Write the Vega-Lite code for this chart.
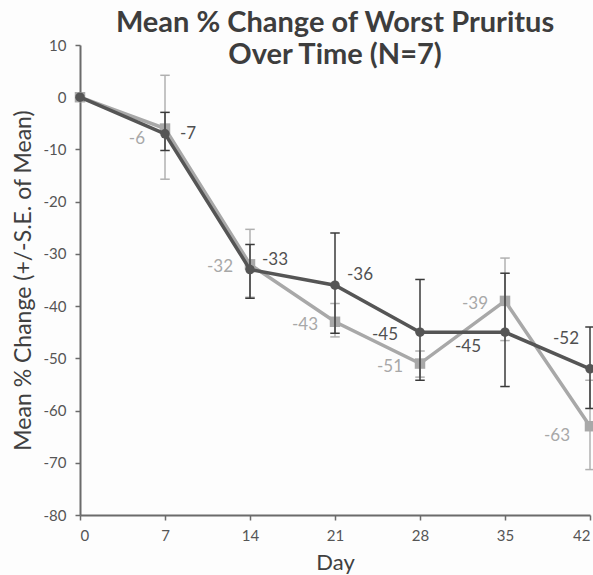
{
  "$schema": "https://vega.github.io/schema/vega-lite/v6.json",
  "width": 510,
  "height": 470,
  "autosize": {"type": "none"},
  "padding": {"left": 80, "top": 45, "right": 3, "bottom": 60},
  "background": "#fdfdfd",
  "title": {
    "text": ["Mean % Change of Worst Pruritus", "Over Time (N=7)"],
    "font": "Lato",
    "fontSize": 29,
    "fontWeight": "bold",
    "color": "#3d3d3d",
    "anchor": "middle",
    "frame": "group",
    "lineHeight": 32,
    "baseline": "alphabetic",
    "offset": -55
  },
  "config": {
    "locale": {
      "number": {"decimal": ".", "thousands": ",", "grouping": [3], "currency": ["$", ""], "minus": "-"}
    },
    "view": {"stroke": null},
    "font": "Lato",
    "axis": {
      "grid": false,
      "domainColor": "#6b6b6b",
      "domainWidth": 2,
      "tickColor": "#6b6b6b",
      "tickWidth": 1.5,
      "tickSize": 5,
      "labelFont": "Lato",
      "labelFontSize": 15,
      "labelColor": "#555555",
      "titleFont": "Lato",
      "titleFontSize": 23,
      "titleFontWeight": "normal",
      "titleColor": "#404040"
    }
  },
  "data": {
    "values": [
      {"series": "B", "day": 0, "mean": 0},
      {"series": "B", "day": 7, "mean": -6, "lo": -15.7, "hi": 4.2},
      {"series": "B", "day": 14, "mean": -32, "lo": -38.3, "hi": -25.3},
      {"series": "B", "day": 21, "mean": -43, "lo": -45.9, "hi": -39.5},
      {"series": "B", "day": 28, "mean": -51, "lo": -53.6, "hi": -48.6},
      {"series": "B", "day": 35, "mean": -39, "lo": -46.6, "hi": -30.8},
      {"series": "B", "day": 42, "mean": -63, "lo": -71.3, "hi": -54.2},
      {"series": "A", "day": 0, "mean": 0},
      {"series": "A", "day": 7, "mean": -7, "lo": -10.2, "hi": -2.9},
      {"series": "A", "day": 14, "mean": -33, "lo": -38.5, "hi": -28.2},
      {"series": "A", "day": 21, "mean": -36, "lo": -45.2, "hi": -26.0},
      {"series": "A", "day": 28, "mean": -45, "lo": -54.2, "hi": -34.9},
      {"series": "A", "day": 35, "mean": -45, "lo": -55.4, "hi": -33.7},
      {"series": "A", "day": 42, "mean": -52, "lo": -59.6, "hi": -44.0}
    ]
  },
  "layer": [
    {
      "transform": [{"filter": "datum.series == 'B'"}],
      "layer": [
        {
          "mark": {"type": "rule", "color": "#b0b0b0", "strokeWidth": 1.5},
          "encoding": {
            "y": {"field": "lo", "type": "quantitative"},
            "y2": {"field": "hi"}
          }
        },
        {
          "mark": {"type": "point", "shape": "M-1,0H1", "size": 90, "stroke": "#b0b0b0", "strokeWidth": 1.5, "filled": false, "opacity": 1},
          "encoding": {"y": {"field": "lo", "type": "quantitative"}}
        },
        {
          "mark": {"type": "point", "shape": "M-1,0H1", "size": 90, "stroke": "#b0b0b0", "strokeWidth": 1.5, "filled": false, "opacity": 1},
          "encoding": {"y": {"field": "hi", "type": "quantitative"}}
        },
        {
          "mark": {"type": "line", "color": "#a8a8a8", "strokeWidth": 3.5},
          "encoding": {"y": {"field": "mean", "type": "quantitative"}}
        },
        {
          "mark": {"type": "point", "shape": "square", "size": 110, "filled": true, "color": "#a8a8a8", "opacity": 1},
          "encoding": {"y": {"field": "mean", "type": "quantitative"}}
        },
        {
          "transform": [{"filter": "datum.day == 7 || datum.day == 42"}],
          "mark": {"type": "text", "align": "right", "baseline": "middle", "dx": -20, "dy": 10, "fontSize": 17, "color": "#a8a8a8"},
          "encoding": {"y": {"field": "mean", "type": "quantitative"}, "text": {"field": "mean", "type": "quantitative", "format": ".0f"}}
        },
        {
          "transform": [{"filter": "datum.day >= 14 && datum.day <= 35"}],
          "mark": {"type": "text", "align": "right", "baseline": "middle", "dx": -17, "dy": 3, "fontSize": 17, "color": "#a8a8a8"},
          "encoding": {"y": {"field": "mean", "type": "quantitative"}, "text": {"field": "mean", "type": "quantitative", "format": ".0f"}}
        }
      ]
    },
    {
      "transform": [{"filter": "datum.series == 'A'"}],
      "layer": [
        {
          "mark": {"type": "rule", "color": "#3a3a3a", "strokeWidth": 1.5},
          "encoding": {
            "y": {"field": "lo", "type": "quantitative"},
            "y2": {"field": "hi"}
          }
        },
        {
          "mark": {"type": "point", "shape": "M-1,0H1", "size": 90, "stroke": "#3a3a3a", "strokeWidth": 1.5, "filled": false, "opacity": 1},
          "encoding": {"y": {"field": "lo", "type": "quantitative"}}
        },
        {
          "mark": {"type": "point", "shape": "M-1,0H1", "size": 90, "stroke": "#3a3a3a", "strokeWidth": 1.5, "filled": false, "opacity": 1},
          "encoding": {"y": {"field": "hi", "type": "quantitative"}}
        },
        {
          "mark": {"type": "line", "color": "#555555", "strokeWidth": 3.5},
          "encoding": {"y": {"field": "mean", "type": "quantitative"}}
        },
        {
          "mark": {"type": "point", "shape": "circle", "size": 90, "filled": true, "color": "#555555", "opacity": 1},
          "encoding": {"y": {"field": "mean", "type": "quantitative"}}
        },
        {
          "transform": [{"filter": "datum.day == 7"}],
          "mark": {"type": "text", "align": "left", "baseline": "middle", "dx": 15, "dy": 0, "fontSize": 17, "color": "#505050"},
          "encoding": {"y": {"field": "mean", "type": "quantitative"}, "text": {"field": "mean", "type": "quantitative", "format": ".0f"}}
        },
        {
          "transform": [{"filter": "datum.day == 14 || datum.day == 21"}],
          "mark": {"type": "text", "align": "left", "baseline": "middle", "dx": 12, "dy": -10, "fontSize": 17, "color": "#505050"},
          "encoding": {"y": {"field": "mean", "type": "quantitative"}, "text": {"field": "mean", "type": "quantitative", "format": ".0f"}}
        },
        {
          "transform": [{"filter": "datum.day == 28"}],
          "mark": {"type": "text", "align": "right", "baseline": "middle", "dx": -22, "dy": 3, "fontSize": 17, "color": "#505050"},
          "encoding": {"y": {"field": "mean", "type": "quantitative"}, "text": {"field": "mean", "type": "quantitative", "format": ".0f"}}
        },
        {
          "transform": [{"filter": "datum.day == 35"}],
          "mark": {"type": "text", "align": "right", "baseline": "middle", "dx": -24, "dy": 15, "fontSize": 17, "color": "#505050"},
          "encoding": {"y": {"field": "mean", "type": "quantitative"}, "text": {"field": "mean", "type": "quantitative", "format": ".0f"}}
        },
        {
          "transform": [{"filter": "datum.day == 42"}],
          "mark": {"type": "text", "align": "right", "baseline": "middle", "dx": -11, "dy": -30, "fontSize": 17, "color": "#505050"},
          "encoding": {"y": {"field": "mean", "type": "quantitative"}, "text": {"field": "mean", "type": "quantitative", "format": ".0f"}}
        }
      ]
    }
  ],
  "resolve": {"scale": {"y": "shared"}},
  "encoding": {
    "x": {
      "field": "day",
      "type": "quantitative",
      "scale": {"domain": [0, 42], "nice": false, "zero": false},
      "axis": {"values": [0, 7, 14, 21, 28, 35, 42], "title": "Day", "titleFontSize": 22, "titlePadding": 9, "labelPadding": 8}
    },
    "y": {
      "type": "quantitative",
      "scale": {"domain": [-80, 10], "nice": false, "zero": false},
      "axis": {"values": [-80, -70, -60, -50, -40, -30, -20, -10, 0, 10], "title": "Mean % Change (+/-S.E. of Mean)", "titlePadding": 8, "labelPadding": 9}
    }
  }
}
